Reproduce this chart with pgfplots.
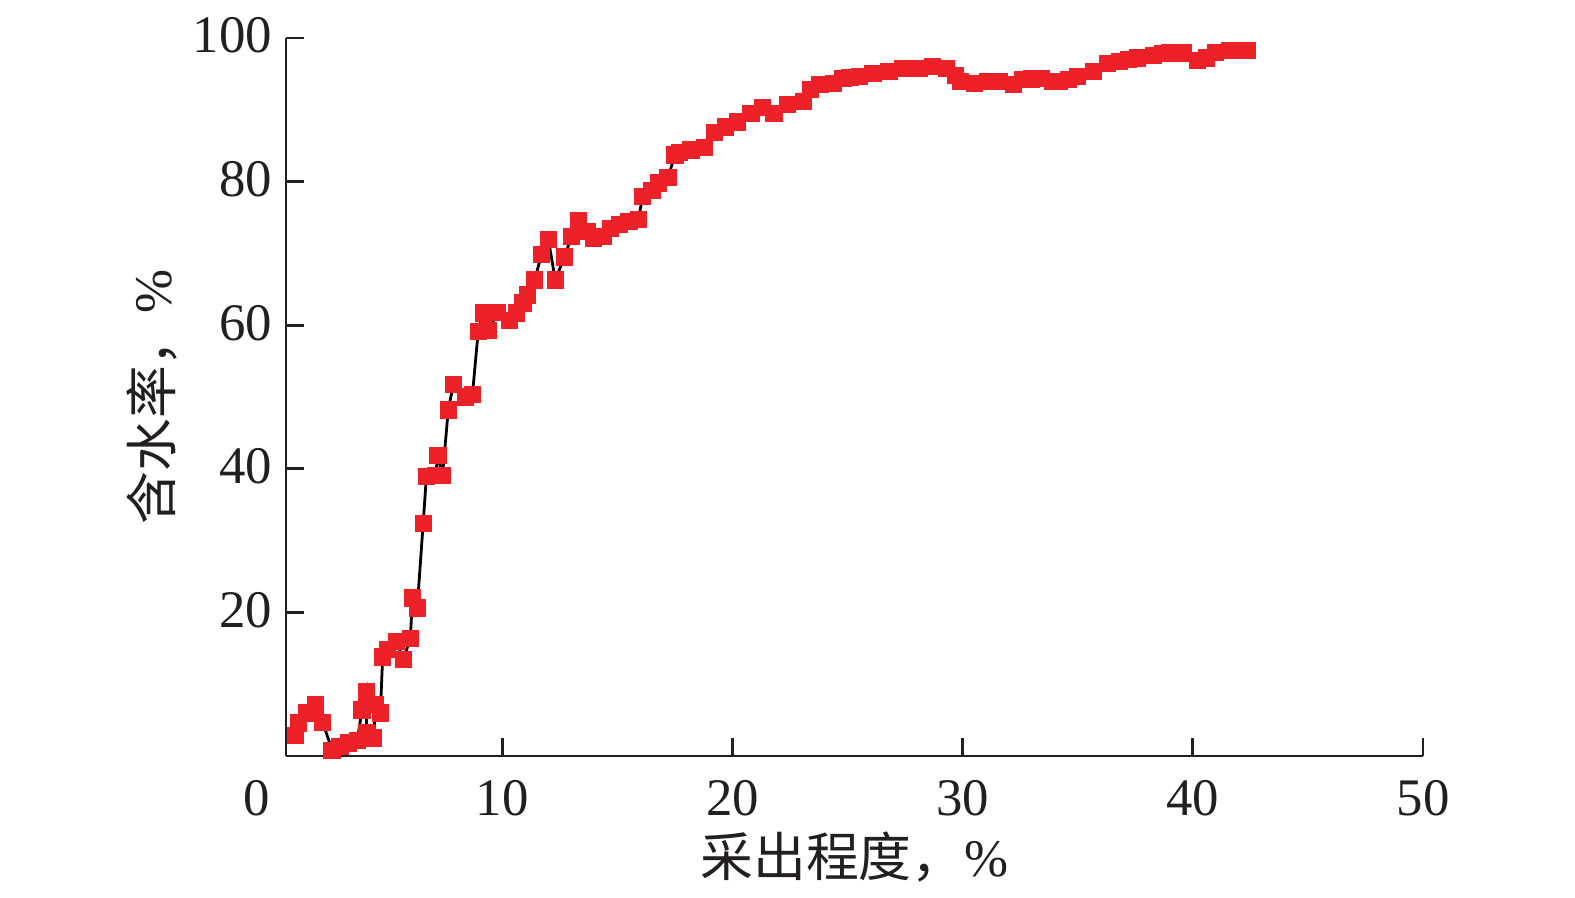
\documentclass[border=0pt]{standalone}
\usepackage{fontspec}
\setmainfont{Liberation Serif}
\newfontfamily\cjk{Noto Sans CJK SC}
\usepackage{pgfplots}
\pgfplotsset{compat=1.18}

\definecolor{mkred}{RGB}{237,34,40}
\definecolor{axgray}{RGB}{35,31,32}

\pgfplotstableread{
x y
1.0 2.9
1.13 4.6
1.5 6.0
1.87 7.1
2.2 4.7
2.6 0.8
2.95 1.3
3.3 1.8
3.7 2.2
3.9 6.4
4.1 8.9
4.1 3.3
4.4 2.5
4.5 7.2
4.7 6.0
4.8 13.8
5.0 14.8
5.4 15.9
5.7 13.4
6.0 16.4
6.1 22.0
6.3 20.6
6.56 32.4
6.7 38.9
7.1 39.1
7.2 41.9
7.4 39.1
7.65 48.2
7.87 51.7
8.4 50.0
8.7 50.3
8.95 59.1
9.17 61.7
9.4 59.3
9.8 61.8
10.3 60.7
10.6 61.7
10.9 63.1
11.1 64.2
11.4 66.3
11.7 69.8
12.0 71.9
12.3 66.3
12.7 69.5
13.0 72.3
13.3 74.6
13.7 73.0
13.95 72.1
14.4 72.3
14.7 73.5
15.1 74.0
15.5 74.4
15.9 74.7
16.1 77.9
16.5 78.8
16.8 79.8
17.2 80.6
17.5 83.7
17.7 84.1
18.2 84.4
18.8 84.7
19.2 86.8
19.7 87.6
20.2 88.3
20.8 89.5
21.3 90.3
21.8 89.5
22.4 90.7
23.1 91.1
23.4 92.8
23.8 93.5
24.4 93.7
24.8 94.4
25.1 94.5
25.5 94.6
26.1 95.1
26.8 95.3
27.4 95.8
27.8 95.8
28.1 95.8
28.7 96.0
29.3 95.8
29.7 94.8
29.9 93.9
30.5 93.7
31.1 93.9
31.6 93.9
32.2 93.5
32.6 94.2
33.0 94.3
33.4 94.4
33.9 93.9
34.2 93.9
34.6 94.2
35.0 94.6
35.7 95.3
36.3 96.5
36.8 96.7
37.2 97.0
37.6 97.2
38.3 97.6
38.7 97.8
39.0 97.9
39.6 97.9
40.2 96.9
40.6 97.2
41.0 98.0
41.6 98.3
42.0 98.3
42.35 98.3
}\wcdata

\begin{document}
\begin{tikzpicture}
\begin{axis}[
  scale only axis, width=284.25pt, height=179.5pt,
  xmin=0.6, xmax=50, ymin=0, ymax=100,
  axis lines=left, axis line style={-, line width=0.7pt, draw=axgray},
  tick align=inside, tick style={line width=0.7pt, draw=axgray},
  major tick length=4.5pt,
  xtick={10,20,30,40,50}, ytick={20,40,60,80,100},
  extra x ticks={0.6}, extra x tick labels={0},
  extra x tick style={major tick length=0pt, xticklabel style={xshift=-7.25pt}},
  ticklabel style={font=\fontsize{13.2}{15}\selectfont, text=axgray},
  xticklabel style={yshift=-2.5pt},
  yticklabel style={yshift=0.6pt},
  /pgf/number format/assume math mode=true,
  xlabel={{\cjk 采出程度，}\%}, ylabel={{\cjk 含水率，}\%},
  every axis x label/.style={at={(rel axis cs:0.5,0)}, yshift=-25.25pt, anchor=center,
    font=\fontsize{13.2}{15}\selectfont, text=axgray},
  every axis y label/.style={at={(rel axis cs:0,0.5)}, xshift=-33.5pt, anchor=center,
    rotate=90, font=\fontsize{13.2}{15}\selectfont, text=axgray},
  clip=false,
]
\addplot[black, line width=0.7pt, mark=square*, mark size=1.95pt,
  mark options={draw=mkred, fill=mkred, line width=0.4pt}] table {\wcdata};
\coordinate (O) at (rel axis cs:0,0);
\coordinate (T) at (rel axis cs:1,1);
\end{axis}
\pgfresetboundingbox
\useasboundingbox ([xshift=-71.5pt,yshift=-35.5pt]O) rectangle ([xshift=38pt,yshift=9.5pt]T);
\end{tikzpicture}
\end{document}
